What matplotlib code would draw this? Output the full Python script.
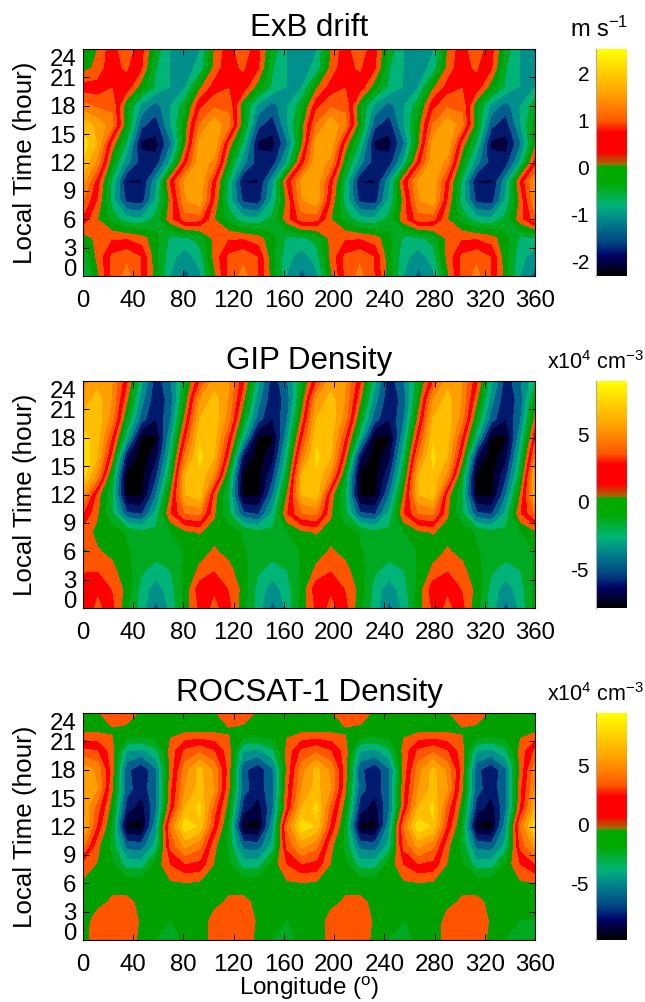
import numpy as np
import matplotlib
matplotlib.use('Agg')
import matplotlib.pyplot as plt
from matplotlib.cm import ScalarMappable
from matplotlib.colors import LinearSegmentedColormap, ListedColormap, Normalize

plt.rcParams['font.family'] = ['Liberation Sans', 'DejaVu Sans']
plt.rcParams['mathtext.fontset'] = 'custom'
plt.rcParams['mathtext.rm'] = 'Liberation Sans'
plt.rcParams['mathtext.default'] = 'regular'
plt.rcParams['axes.unicode_minus'] = False

W, H = 645, 1002

# longitude columns (deg) and local time rows (hour)
lon = [0, 11.6, 23.2, 34.8, 46.5, 58.1, 69.7, 81.3, 92.9, 104.5, 116.1, 127.7, 139.4, 151, 162.6, 174.2,
       185.8, 197.4, 209, 220.6, 232.3, 243.9, 255.5, 267.1, 278.7, 290.3, 301.9, 313.5, 325.2, 336.8, 348.4, 360]
local_time = [0, 2, 4, 6, 8, 10, 12, 14, 16, 18, 20, 22, 24]

exb_drift = [
    [-.9,-.1,.8,1.2,.7,-.2,-1.1,-1.55,-1.2,-.1,.8,1.2,.7,-.2,-1.1,-1.55,-1.2,-.1,.8,1.2,.7,-.2,-1.1,-1.55,-1.2,-.1,.8,1.2,.7,-.2,-1.1,-1.55],
    [-.7,.1,.8,1.0,.7,-.3,-.95,-1.3,-.9,.1,.8,1.0,.7,-.3,-.95,-1.3,-.9,.1,.8,1.0,.7,-.3,-.95,-1.3,-.9,.1,.8,1.0,.7,-.3,-.95,-1.3],
    [-.2,.1,.3,.3,.15,-.25,-.8,-.8,-.6,.1,.3,.3,.15,-.25,-.8,-.8,-.6,.1,.3,.3,.15,-.25,-.8,-.8,-.6,.1,.3,.3,.15,-.25,-.8,-.8],
    [.6,0,-.5,-.95,-1.0,-.6,.2,.9,.85,0,-.5,-.95,-1.0,-.6,.2,.9,.85,0,-.5,-.95,-1.0,-.6,.2,.9,.85,0,-.5,-.95,-1.0,-.6,.2,.9],
    [1.1,.3,-.9,-1.9,-2.0,-1.0,.1,1.4,1.7,.3,-.9,-1.9,-2.0,-1.0,.1,1.4,1.7,.3,-.9,-1.9,-2.0,-1.0,.1,1.4,1.7,.3,-.9,-1.9,-2.0,-1.0,.1,1.4],
    [1.6,.5,-.8,-2.18,-2.18,-1.2,.4,1.5,1.75,.5,-.8,-2.18,-2.18,-1.2,.4,1.5,1.75,.5,-.8,-2.18,-2.18,-1.2,.4,1.5,1.75,.5,-.8,-2.18,-2.18,-1.2,.4,1.5],
    [2.1,1.3,-.3,-1.3,-2.0,-2.0,-1.0,.5,1.7,1.3,-.3,-1.3,-2.0,-2.0,-1.0,.5,1.7,1.3,-.3,-1.3,-2.0,-2.0,-1.0,.5,1.7,1.3,-.3,-1.3,-2.0,-2.0,-1.0,.5],
    [2.4,1.75,.2,-.8,-2.25,-2.3,-1.5,-.1,1.6,1.75,.2,-.8,-2.25,-2.3,-1.5,-.1,1.6,1.75,.2,-.8,-2.25,-2.3,-1.5,-.1,1.6,1.75,.2,-.8,-2.25,-2.3,-1.5,-.1],
    [2.0,1.7,1.2,-.3,-1.7,-2.0,-1.1,-.2,1.1,1.7,1.2,-.3,-1.7,-2.0,-1.1,-.2,1.1,1.7,1.2,-.3,-1.7,-2.0,-1.1,-.2,1.1,1.7,1.2,-.3,-1.7,-2.0,-1.1,-.2],
    [1.2,1.0,1.0,-.3,-1.2,-1.6,-1.1,-.5,.6,1.0,1.0,-.3,-1.2,-1.6,-1.1,-.5,.6,1.0,1.0,-.3,-1.2,-1.6,-1.1,-.5,.6,1.0,1.0,-.3,-1.2,-1.6,-1.1,-.5],
    [.5,.5,.7,.6,-.2,-.8,-1.1,-1.1,-.1,.5,.7,.6,-.2,-.8,-1.1,-1.1,-.1,.5,.7,.6,-.2,-.8,-1.1,-1.1,-.1,.5,.7,.6,-.2,-.8,-1.1,-1.1],
    [-.15,.1,.65,.75,.4,-.7,-1.1,-1.2,-1.0,.1,.65,.75,.4,-.7,-1.1,-1.2,-1.0,.1,.65,.75,.4,-.7,-1.1,-1.2,-1.0,.1,.65,.75,.4,-.7,-1.1,-1.2],
    [-.4,0,.6,.9,.5,-.5,-1.1,-1.3,-1.1,0,.6,.9,.5,-.5,-1.1,-1.3,-1.1,0,.6,.9,.5,-.5,-1.1,-1.3,-1.1,0,.6,.9,.5,-.5,-1.1,-1.5],
]

gip_density = [
    [1.0,2.5,1.4,-.8,-2.7,-4.8,-3.0,-.6,1.3,2.5,1.4,-.8,-2.7,-4.8,-3.0,-.6,1.3,2.5,1.4,-.8,-2.7,-4.8,-3.0,-.6,1.3,2.5,1.4,-.8,-2.7,-4.8,-3.0,-.6],
    [2.1,2.0,1.0,-.4,-2.7,-3.9,-2.7,-.8,1.8,2.0,1.0,-.4,-2.7,-3.9,-2.7,-.8,1.8,2.0,1.0,-.4,-2.7,-3.9,-2.7,-.8,1.8,2.0,1.0,-.4,-2.7,-3.9,-2.7,-.8],
    [.9,1.0,.3,-.7,-2.0,-2.7,-2.2,-.9,.2,1.0,.3,-.7,-2.0,-2.7,-2.2,-.9,.2,1.0,.3,-.7,-2.0,-2.7,-2.2,-.9,.2,1.0,.3,-.7,-2.0,-2.7,-2.2,-.9],
    [-.1,.1,-.3,-1.05,-1.3,-1.7,-1.5,-1.05,-.4,.1,-.3,-1.05,-1.3,-1.7,-1.5,-1.05,-.4,.1,-.3,-1.05,-1.3,-1.7,-1.5,-1.05,-.4,.1,-.3,-1.05,-1.3,-1.7,-1.5,-1.05],
    [.5,-.3,-.6,-1.2,-1.9,-1.9,-1.2,-.35,.05,-.3,-.6,-1.2,-1.9,-1.9,-1.2,-.35,.05,-.3,-.6,-1.2,-1.9,-1.9,-1.2,-.35,.05,-.3,-.6,-1.2,-1.9,-1.9,-1.2,-.35],
    [2.2,.1,-2.0,-5.3,-5.7,-3.0,1.0,3.3,3.6,.1,-2.0,-5.3,-5.7,-3.0,1.0,3.3,3.6,.1,-2.0,-5.3,-5.7,-3.0,1.0,3.3,3.6,.1,-2.0,-5.3,-5.7,-3.0,1.0,3.3],
    [4.6,.5,-2.2,-8.0,-8.0,-4.5,0,5.5,6.3,.5,-2.2,-8.0,-8.0,-4.5,0,5.5,6.3,.5,-2.2,-8.0,-8.0,-4.5,0,5.5,6.3,.5,-2.2,-8.0,-8.0,-4.5,0,5.5],
    [7.1,4.0,-1.5,-8.0,-8.2,-5.8,-1.5,5.5,6.4,4.0,-1.5,-8.0,-8.2,-5.8,-1.5,5.5,6.4,4.0,-1.5,-8.0,-8.2,-5.8,-1.5,5.5,6.4,4.0,-1.5,-8.0,-8.2,-5.8,-1.5,5.5],
    [7.7,5.5,.6,-6.5,-8.3,-7.0,-2.5,3.5,6.9,5.5,.6,-6.5,-8.3,-7.0,-2.5,3.5,6.9,5.5,.6,-6.5,-8.3,-7.0,-2.5,3.5,6.9,5.5,.6,-6.5,-8.3,-7.0,-2.5,3.5],
    [7.0,6.0,2.0,-3.0,-7.9,-7.9,-3.5,1.8,6.4,6.0,2.0,-3.0,-7.9,-7.9,-3.5,1.8,6.4,6.0,2.0,-3.0,-7.9,-7.9,-3.5,1.8,6.4,6.0,2.0,-3.0,-7.9,-7.9,-3.5,1.8],
    [5.8,6.2,3.8,-1.2,-5.0,-6.6,-4.5,.3,5.5,6.2,3.8,-1.2,-5.0,-6.6,-4.5,.3,5.5,6.2,3.8,-1.2,-5.0,-6.6,-4.5,.3,5.5,6.2,3.8,-1.2,-5.0,-6.6,-4.5,.3],
    [4.9,6.0,4.3,.2,-4.0,-6.4,-5.0,-.8,4.4,6.0,4.3,.2,-4.0,-6.4,-5.0,-.8,4.4,6.0,4.3,.2,-4.0,-6.4,-5.0,-.8,4.4,6.0,4.3,.2,-4.0,-6.4,-5.0,-.8],
    [3.9,5.0,4.4,1.3,-3.0,-6.2,-4.5,-1.5,2.0,5.0,4.4,1.3,-3.0,-6.2,-4.5,-1.5,2.0,5.0,4.4,1.3,-3.0,-6.2,-4.5,-1.5,2.0,5.0,4.4,1.3,-3.0,-6.2,-4.5,-2.5],
]

rocsat_density = [
    [-.3,.4,.7,.6,-.3,-1.25,-1.4,-1.1,-.6,.4,.7,.6,-.3,-1.25,-1.4,-1.1,-.6,.4,.7,.6,-.3,-1.25,-1.4,-1.1,-.6,.4,.7,.6,-.3,-1.25,-1.4,-1.5],
    [-.3,.3,.9,.8,-.2,-.7,-1.25,-.8,-.5,.3,.9,.8,-.2,-.7,-1.25,-.8,-.5,.3,.9,.8,-.2,-.7,-1.25,-.8,-.5,.3,.9,.8,-.2,-.7,-1.25,-1.3],
    [-.3,-.2,.1,.2,-.2,-.4,-.5,-.4,-.3,-.2,.1,.2,-.2,-.4,-.5,-.4,-.3,-.2,.1,.2,-.2,-.4,-.5,-.4,-.3,-.2,.1,.2,-.2,-.4,-.5,-.5],
    [-.2,-.2,-.2,-.4,-.5,-.4,-.2,-.1,-.2,-.2,-.2,-.4,-.5,-.4,-.2,-.1,-.2,-.2,-.2,-.4,-.5,-.4,-.2,-.1,-.2,-.2,-.2,-.4,-.5,-.4,-.2,-.1],
    [.6,-.1,-1.0,-3.0,-3.0,-.8,1.2,2.3,2.0,-.1,-1.0,-3.0,-3.0,-.8,1.2,2.3,2.0,-.1,-1.0,-3.0,-3.0,-.8,1.2,2.3,2.0,-.1,-1.0,-3.0,-3.0,-.8,1.2,2.3],
    [4.0,.3,-1.6,-5.3,-5.5,-3.2,2.8,5.2,4.0,.3,-1.6,-5.3,-5.5,-3.2,2.8,5.2,4.0,.3,-1.6,-5.3,-5.5,-3.2,2.8,5.2,4.0,.3,-1.6,-5.3,-5.5,-3.2,2.8,5.2],
    [6.6,2.0,-1.5,-8.6,-8.7,-4.0,3.7,8.0,7.0,2.0,-1.5,-8.6,-8.7,-4.0,3.7,8.0,7.0,2.0,-1.5,-8.6,-8.7,-4.0,3.7,8.0,7.0,2.0,-1.5,-8.6,-8.7,-4.0,3.7,8.0],
    [5.8,3.0,-.7,-6.6,-7.8,-5.0,1.1,6.0,7.5,3.0,-.7,-6.6,-7.8,-5.0,1.1,6.0,7.5,3.0,-.7,-6.6,-7.8,-5.0,1.1,6.0,7.5,3.0,-.7,-6.6,-7.8,-5.0,1.1,6.0],
    [5.8,4.8,.1,-5.5,-6.8,-5.0,.8,4.8,6.4,4.8,.1,-5.5,-6.8,-5.0,.8,4.8,6.4,4.8,.1,-5.5,-6.8,-5.0,.8,4.8,6.4,4.8,.1,-5.5,-6.8,-5.0,.8,4.8],
    [5.6,4.5,.5,-5.7,-6.9,-5.0,.3,4.3,6.4,4.5,.5,-5.7,-6.9,-5.0,.3,4.3,6.4,4.5,.5,-5.7,-6.9,-5.0,.3,4.3,6.4,4.5,.5,-5.7,-6.9,-5.0,.3,4.3],
    [2.7,2.4,.5,-3.6,-3.9,-2.7,.4,2.6,3.3,2.4,.5,-3.6,-3.9,-2.7,.4,2.6,3.3,2.4,.5,-3.6,-3.9,-2.7,.4,2.6,3.3,2.4,.5,-3.6,-3.9,-2.7,.4,2.6],
    [-.1,-.1,-.1,-.2,-.3,-.3,-.2,-.1,-.05,-.1,-.1,-.2,-.3,-.3,-.2,-.1,-.05,-.1,-.1,-.2,-.3,-.3,-.2,-.1,-.05,-.1,-.1,-.2,-.3,-.3,-.2,-.1],
    [-.3,-.05,.3,.3,-.1,-.2,-.2,-.1,-.1,-.05,.3,.3,-.1,-.2,-.2,-.1,-.1,-.05,.3,.3,-.1,-.2,-.2,-.1,-.1,-.05,.3,.3,-.1,-.2,-.2,-.1],
]

titles = ['ExB drift', 'GIP Density', 'ROCSAT-1 Density']
units = ['m s$^{-1}$', 'x10$^4$ cm$^{-3}$', 'x10$^4$ cm$^{-3}$']
lon_ticks = [0, 40, 80, 120, 160, 200, 240, 280, 320, 360]
lt_ticks = [0, 3, 6, 9, 12, 15, 18, 21, 24]
bar_ticks = [[-2, -1, 0, 1, 2], [-5, 0, 5], [-5, 0, 5]]
bar_range = [(-2.3, 2.52), (-7.8, 8.9), (-9.8, 9.4)]
level_step = [0.36, 1.1, 1.2]

neg_colors = ['#000000', '#00003c', '#001a6e', '#005f8c', '#00908c', '#00b478', '#00aa20', '#00a000']
pos_colors = ['#ff5500', '#ff0000', '#ff5500', '#ff8000', '#ffa000', '#ffbe00', '#ffdc00', '#ffee00']

bar_cmap = LinearSegmentedColormap.from_list('bar', [
    (0.0, '#000000'), (0.085, '#000064'), (0.15, '#004682'), (0.24, '#00828c'), (0.31, '#00b478'),
    (0.41, '#00aa00'), (0.485, '#00aa00'), (0.49, '#a06e00'), (0.546, '#ff0000'), (0.634, '#ff0000'),
    (0.68, '#ff5500'), (0.81, '#ffa500'), (1.0, '#ffff00')], N=256)


def px_axes(left, top, right, bottom):
    return fig.add_axes([left / W, 1 - bottom / H, (right - left) / W, (bottom - top) / H])


fig = plt.figure(figsize=(W / 100, H / 100), dpi=100)
fields = [exb_drift, gip_density, rocsat_density]
tops = [49, 381, 713]

for i, field in enumerate(fields):
    top = tops[i]
    ax = px_axes(83, top, 535, top + 227)
    step = level_step[i]
    levels = [step * k for k in range(-8, 9)]
    cmap = ListedColormap(neg_colors + pos_colors)
    ax.contourf(lon, local_time, field, levels=levels, cmap=cmap, extend='both')
    ax.set_xlim(0, 360)
    ax.set_ylim(0, 24)
    ax.set_xticks(lon_ticks)
    ax.set_yticks(lt_ticks)
    ax.tick_params(direction='in', length=4.5, width=0.7, top=True, right=True, labelsize=17.3)
    ax.tick_params(axis='x', pad=10)
    ax.tick_params(axis='y', pad=5)
    # end labels sit inside the axis span, as in the original
    ylabels = ax.get_yticklabels()
    ylabels[0].set_va('baseline')
    ylabels[-1].set_va('top')
    ax.set_ylabel('Local Time (hour)', fontsize=18.7, labelpad=9)
    ax.set_title(titles[i], fontsize=22.5, pad=9)
    if i == 2:
        ax.set_xlabel('Longitude ($^{o}$)', fontsize=17.5, labelpad=-0.5)

    cax = px_axes(596, top, 627, top + 227)
    sm = ScalarMappable(norm=Normalize(*bar_range[i]), cmap=bar_cmap)
    cb = fig.colorbar(sm, cax=cax)
    cb.outline.set_visible(False)
    cb.set_ticks(bar_ticks[i])
    cax.yaxis.set_ticks_position('left')
    cax.tick_params(length=0, pad=5, labelsize=15)
    cax.spines['left'].set_visible(True)
    cax.spines['left'].set_color('#aaaaaa')
    cax.text(0.11 if i == 0 else -0.0, 1.03, units[i], transform=cax.transAxes, fontsize=17 if i == 0 else 15.5,
             ha='center', va='bottom')

fig.savefig('out.png', dpi=100)
